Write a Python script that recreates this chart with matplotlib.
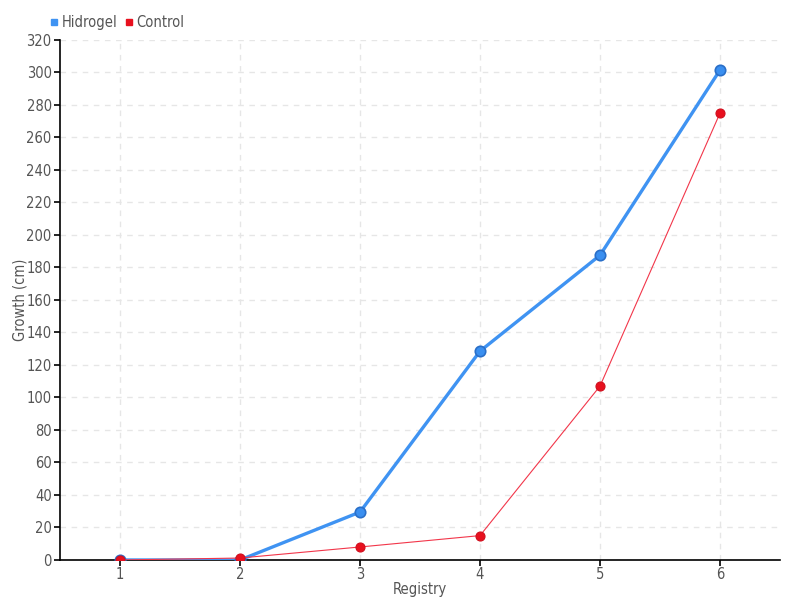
import numpy as np
import matplotlib
matplotlib.use("Agg")
import matplotlib.pyplot as plt
from matplotlib.lines import Line2D

registry = [1, 2, 3, 4, 5, 6]
hidrogel = [0, 0, 29.5, 128.5, 187.5, 301.5]
control = [0, 1.2, 8, 15, 107, 275]

plt.rcParams['font.family'] = ['DejaVu Sans']
plt.rcParams['font.stretch'] = 'condensed'

fig = plt.figure(figsize=(8, 6), dpi=100)
ax = fig.add_axes([0.075, 0.0667, 0.9, 0.8667])

ax.plot(registry, hidrogel, color='#3f93f2', lw=2.4, marker='o', ms=7.5,
        mfc='#3a8ff0', mec='#2a6fc8', mew=1.2, zorder=3)
ax.plot(registry, control, color='#f2364a', lw=0.8, marker='o', ms=6.5,
        mfc='#e8101e', mec='#d0101e', mew=0.8, zorder=4)

ax.set_xlim(0.5, 6.5)
ax.set_ylim(0, 320)
ax.set_xticks(registry)
ax.set_yticks(np.arange(0, 321, 20))
ax.grid(True, color='#e6e6e6', linestyle=(0, (4, 4)), lw=1)
ax.set_axisbelow(True)
for s in ['top', 'right']:
    ax.spines[s].set_visible(False)
for s in ['left', 'bottom']:
    ax.spines[s].set_color('black')
    ax.spines[s].set_linewidth(1.2)
ax.tick_params(axis='both', colors='black', labelcolor='#555555',
               labelsize=10.5, length=4, width=1.2)
ax.tick_params(axis='x', pad=1)
ax.tick_params(axis='y', pad=2)
ax.set_xlabel('Registry', color='#555555', fontsize=10.5, labelpad=0)
ax.set_ylabel('Growth (cm)', color='#555555', fontsize=10.5, labelpad=-1)

handles = [Line2D([], [], ls='none', marker='s', ms=5, color='#3f93f2'),
           Line2D([], [], ls='none', marker='s', ms=5, color='#e8101e')]
leg = fig.legend(handles, ['Hidrogel', 'Control'], loc='upper left',
                 bbox_to_anchor=(0.055, 0.985), ncol=2, frameon=False,
                 fontsize=10.5, handlelength=0.6, handletextpad=0.2,
                 columnspacing=0.5, borderaxespad=0)
for t in leg.get_texts():
    t.set_color('#555555')

fig.savefig('out.png', dpi=100)
